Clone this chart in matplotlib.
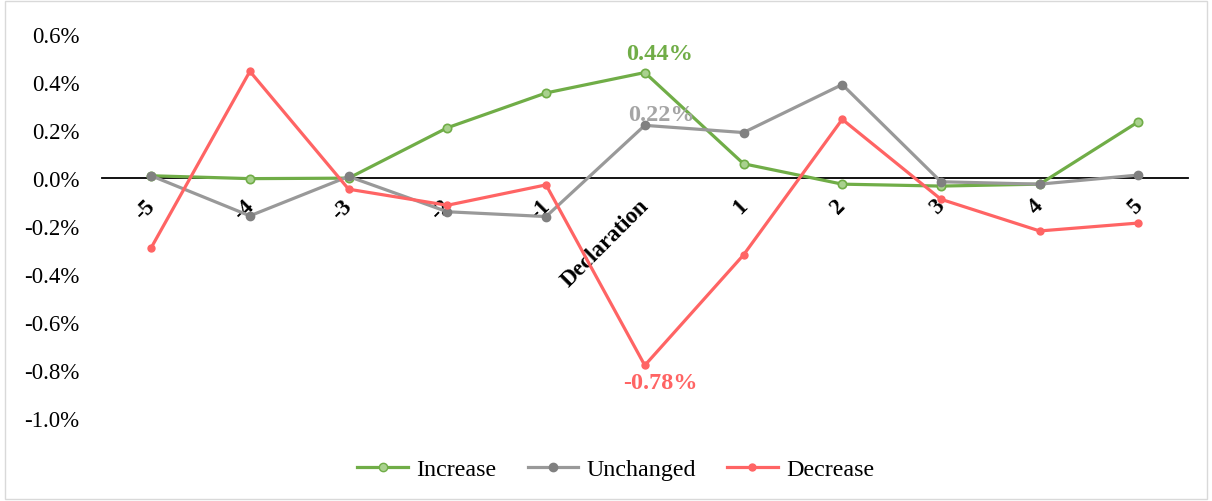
import matplotlib.pyplot as plt
from matplotlib.patches import Rectangle
from matplotlib.lines import Line2D
from matplotlib.transforms import ScaledTranslation

plt.rcParams['font.family'] = ['Liberation Serif', 'DejaVu Serif']

# Dias relativos al anuncio
dias = ['-5', '-4', '-3', '-2', '-1', 'Declaration', '1', '2', '3', '4', '5']

# Retornos anormales promedio (%)
increase = [0.010, -0.002, 0.000, 0.210, 0.355, 0.44, 0.060, -0.025, -0.033, -0.025, 0.235]
unchanged = [0.010, -0.157, 0.007, -0.140, -0.160, 0.22, 0.190, 0.390, -0.015, -0.025, 0.013]
decrease = [-0.290, 0.445, -0.046, -0.113, -0.028, -0.78, -0.320, 0.245, -0.088, -0.220, -0.187]

verde = '#70AD47'
gris = '#999999'
rojo = '#FF6464'

fig = plt.figure(figsize=(12.12, 5.02), dpi=100)
ax = fig.add_axes([0.084, 0.165, 0.896, 0.765])

# eje x sobre el cero (antes de poner las etiquetas, porque lo reinicia)
for s in ['top', 'right', 'left']:
    ax.spines[s].set_visible(False)
ax.spines['bottom'].set_position(('data', 0))
ax.spines['bottom'].set_linewidth(1.3)

x = range(len(dias))
ax.plot(x, increase, color=verde, lw=2.3, marker='o', ms=6,
        mfc='#A9D18E', mec=verde, mew=1.2, label='Increase', zorder=3)
ax.plot(x, unchanged, color=gris, lw=2.3, marker='o', ms=6,
        mfc='#808080', mec='#808080', label='Unchanged', zorder=3)
ax.plot(x, decrease, color=rojo, lw=2.3, marker='o', ms=5,
        mfc=rojo, mec=rojo, label='Decrease', zorder=3)

# Etiquetas del dia del anuncio
i = dias.index('Declaration')
ax.annotate(f'{increase[i]:.2f}%', (i, increase[i]), xytext=(11, 14),
            textcoords='offset points', ha='center', va='center',
            color=verde, fontsize=17.5, fontweight='bold')
ax.annotate(f'{unchanged[i]:.2f}%', (i, unchanged[i]), xytext=(12, 8),
            textcoords='offset points', ha='center', va='center',
            color='#A5A5A5', fontsize=17.5, fontweight='bold')
ax.annotate(f'{decrease[i]:.2f}%', (i, decrease[i]), xytext=(11, -12),
            textcoords='offset points', ha='center', va='center',
            color=rojo, fontsize=17.5, fontweight='bold')

ax.set_xlim(-0.5, len(dias) - 0.5)
ax.set_ylim(-1.0, 0.6)
ax.set_yticks([-1.0, -0.8, -0.6, -0.4, -0.2, 0.0, 0.2, 0.4, 0.6])
ax.set_yticklabels([f'{v:.1f}%' for v in ax.get_yticks()])
ax.tick_params(axis='y', length=0, pad=16, labelsize=16.5)

ax.set_xticks(list(x))
ax.set_xticklabels(dias, rotation=45, ha='right', va='top',
                   rotation_mode='anchor', fontsize=16.5, fontweight='bold')
ax.tick_params(axis='x', length=0, pad=12)
desplazo = ScaledTranslation(-5 / 72, 0, fig.dpi_scale_trans)
for lab in ax.get_xticklabels():
    lab.set_transform(lab.get_transform() + desplazo)

handles = [
    Line2D([], [], color=verde, lw=2.3, marker='o', ms=6, mfc='#A9D18E', mec=verde),
    Line2D([], [], color=gris, lw=2.3, marker='o', ms=6, mfc='#808080', mec='#808080'),
    Line2D([], [], color=rojo, lw=2.3, marker='o', ms=5, mfc=rojo, mec=rojo),
]
fig.legend(handles, ['Increase', 'Unchanged', 'Decrease'], loc='center',
           bbox_to_anchor=(0.508, 0.063), ncol=3, frameon=False, fontsize=17.3,
           handlelength=2.1, columnspacing=1.3, handletextpad=0.35)

fig.patches.append(Rectangle((0.004, 0.004), 0.992, 0.992, transform=fig.transFigure,
                             fill=False, edgecolor='#D9D9D9', lw=1))

fig.savefig('out.png', dpi=100)
